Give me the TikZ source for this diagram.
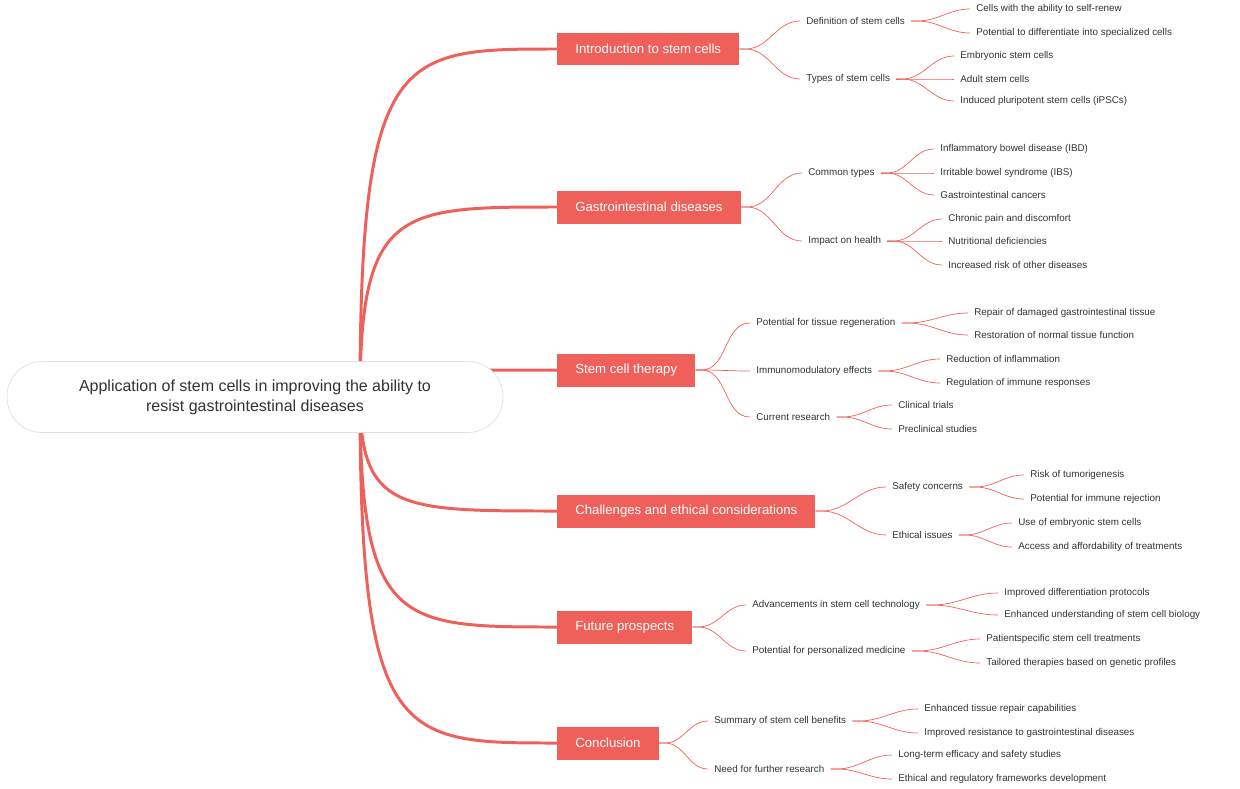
\documentclass[tikz,border=0pt]{standalone}
\usepackage{fontspec}
\setmainfont{Liberation Sans}
\definecolor{mapred}{RGB}{240,96,90}
\definecolor{maptext}{RGB}{51,51,51}
\tikzset{
  root/.style={draw=black!12, fill=white, rounded corners=0.7cm, minimum width=9.92cm, minimum height=1.42cm, align=center, font=\fontsize{9.1}{11.5}\selectfont, text=maptext},
  topic/.style={fill=mapred, text=white, anchor=west, inner xsep=0.36cm, minimum height=0.66cm, font=\fontsize{7.5}{9}\selectfont},
  sub/.style={anchor=west, inner xsep=0.12cm, inner ysep=0pt, font=\fontsize{5.6}{7}\selectfont, text=maptext},
  trunk/.style={draw=mapred, line width=1.7pt},
  twig/.style={draw=mapred, line width=0.4pt},
}
\begin{document}
\begin{tikzpicture}[x=0.02cm, y=-0.02cm]
    \useasboundingbox (0,0) rectangle (1240,788);
    \coordinate (hub) at (360,397);

    % main topics
    \node[topic] (intro) at (557,49) {Introduction to stem cells};
    \node[topic] (gastro) at (557,207) {Gastrointestinal diseases};
    \node[topic] (therapy) at (557,370) {Stem cell therapy};
    \node[topic] (chall) at (557,511) {Challenges and ethical considerations};
    \node[topic] (future) at (557,627) {Future prospects};
    \node[topic] (concl) at (557,743) {Conclusion};

    % second level
    \node[sub] (defn) at (800,21) {Definition of stem cells};
    \node[sub] (types) at (800,79) {Types of stem cells};
    \node[sub] (common) at (802,173) {Common types};
    \node[sub] (impact) at (802,241) {Impact on health};
    \node[sub] (regen) at (750,323) {Potential for tissue regeneration};
    \node[sub] (immuno) at (750,371) {Immunomodulatory effects};
    \node[sub] (current) at (750,417) {Current research};
    \node[sub] (safety) at (886,487) {Safety concerns};
    \node[sub] (ethical) at (886,535) {Ethical issues};
    \node[sub] (advance) at (746,605) {Advancements in stem cell technology};
    \node[sub] (person) at (746,651) {Potential for personalized medicine};
    \node[sub] (summary) at (708,721) {Summary of stem cell benefits};
    \node[sub] (need) at (708,769) {Need for further research};

    % leaves
    \node[sub] (renew) at (970,9) {Cells with the ability to self-renew};
    \node[sub] (differ) at (970,33) {Potential to differentiate into specialized cells};
    \node[sub] (embryo) at (954,56) {Embryonic stem cells};
    \node[sub] (adult) at (954,79) {Adult stem cells};
    \node[sub] (ipsc) at (954,101) {Induced pluripotent stem cells (iPSCs)};
    \node[sub] (ibd) at (934,149) {Inflammatory bowel disease (IBD)};
    \node[sub] (ibs) at (934,173) {Irritable bowel syndrome (IBS)};
    \node[sub] (cancer) at (934,195) {Gastrointestinal cancers};
    \node[sub] (pain) at (942,219) {Chronic pain and discomfort};
    \node[sub] (nutri) at (942,241) {Nutritional deficiencies};
    \node[sub] (risk) at (942,265) {Increased risk of other diseases};
    \node[sub] (repair) at (968,313) {Repair of damaged gastrointestinal tissue};
    \node[sub] (restore) at (968,335) {Restoration of normal tissue function};
    \node[sub] (inflam) at (940,359) {Reduction of inflammation};
    \node[sub] (immresp) at (940,383) {Regulation of immune responses};
    \node[sub] (clinical) at (892,405) {Clinical trials};
    \node[sub] (preclin) at (892,429) {Preclinical studies};
    \node[sub] (tumor) at (1024,475) {Risk of tumorigenesis};
    \node[sub] (reject) at (1024,499) {Potential for immune rejection};
    \node[sub] (useemb) at (1012,523) {Use of embryonic stem cells};
    \node[sub] (access) at (1012,547) {Access and affordability of treatments};
    \node[sub] (protocol) at (998,593) {Improved differentiation protocols};
    \node[sub] (biology) at (998,615) {Enhanced understanding of stem cell biology};
    \node[sub] (patient) at (980,639) {Patientspecific stem cell treatments};
    \node[sub] (tailor) at (980,663) {Tailored therapies based on genetic profiles};
    \node[sub] (tissue) at (918,709) {Enhanced tissue repair capabilities};
    \node[sub] (resist) at (918,733) {Improved resistance to gastrointestinal diseases};
    \node[sub] (longterm) at (892,755) {Long-term efficacy and safety studies};
    \node[sub] (frame) at (892,779) {Ethical and regulatory frameworks development};

    % trunk connectors
    \foreach \t in {intro,gastro,therapy,chall,future,concl}
      \draw[trunk] (hub) .. controls (hub |- \t.west) and (400,0 |- \t.west) .. (\t.west);

    % twigs
    \foreach \p/\c in {intro/defn,intro/types,gastro/common,gastro/impact,
        therapy/regen,therapy/immuno,therapy/current,chall/safety,chall/ethical,
        future/advance,future/person,concl/summary,concl/need,
        defn/renew,defn/differ,types/embryo,types/adult,types/ipsc,
        common/ibd,common/ibs,common/cancer,impact/pain,impact/nutri,impact/risk,
        regen/repair,regen/restore,immuno/inflam,immuno/immresp,
        current/clinical,current/preclin,safety/tumor,safety/reject,
        ethical/useemb,ethical/access,advance/protocol,advance/biology,
        person/patient,person/tailor,summary/tissue,summary/resist,
        need/longterm,need/frame}
      \draw[twig] (\p.east) -- ++(6,0) to[out=0,in=180] (\c.west);

    \node[root] (app) at (255,397) {Application of stem cells in improving the ability to\\resist gastrointestinal diseases};
\end{tikzpicture}
\end{document}
